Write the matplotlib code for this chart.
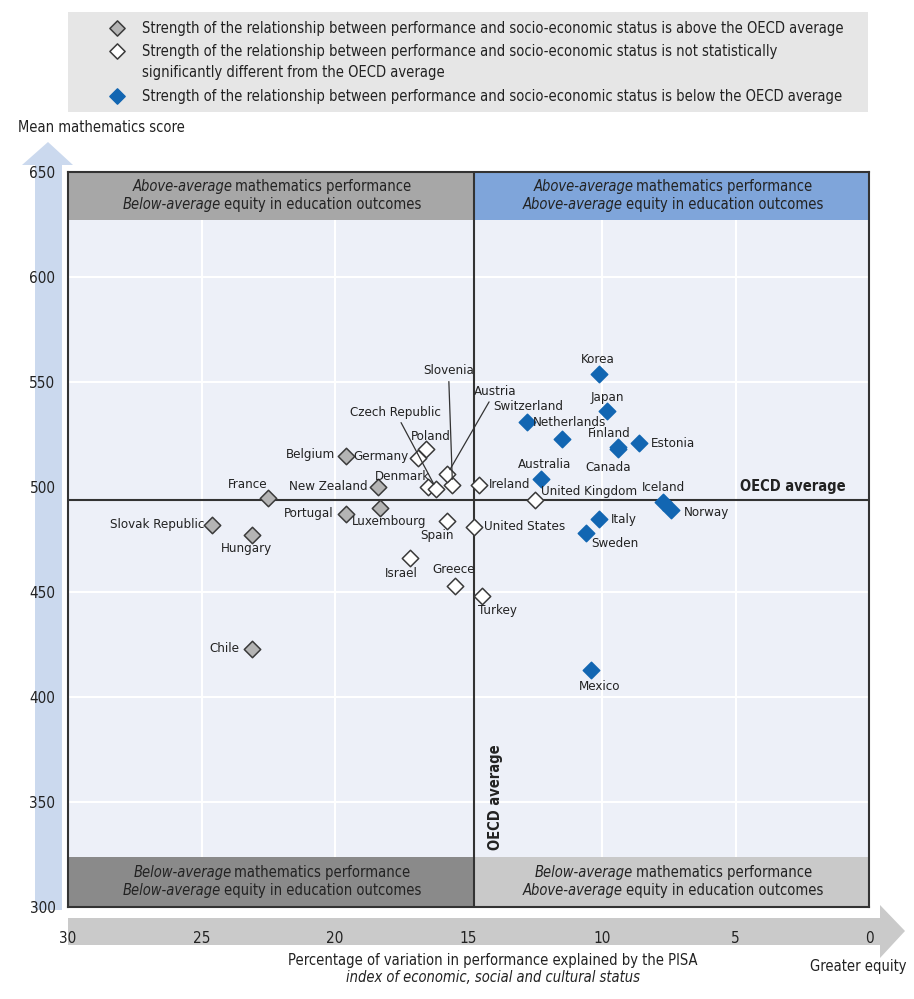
import numpy as np
import matplotlib
matplotlib.use('Agg')
import matplotlib.pyplot as plt
from matplotlib.patches import Rectangle, Polygon

plt.rcParams['font.family'] = ['DejaVu Sans']
plt.rcParams['font.stretch'] = 'condensed'

# data: (% variation explained by ESCS, mean maths score)
countries = ['Korea', 'Japan', 'Netherlands', 'Switzerland', 'Finland', 'Canada', 'Estonia',
             'Australia', 'Iceland', 'Norway', 'Italy', 'Sweden', 'Mexico',
             'United Kingdom', 'Ireland', 'United States', 'Turkey', 'Greece', 'Israel', 'Spain',
             'Luxembourg', 'Portugal', 'New Zealand', 'Belgium', 'Germany', 'Poland', 'Denmark',
             'Czech Republic', 'Slovenia', 'Austria', 'France', 'Slovak Republic', 'Hungary', 'Chile']
equity = [10.1, 9.8, 11.5, 12.8, 9.4, 9.4, 8.6,
          12.3, 7.7, 7.4, 10.1, 10.6, 10.4,
          12.5, 14.6, 14.8, 14.5, 15.5, 17.2, 15.8,
          18.3, 19.6, 18.4, 19.6, 16.9, 16.6, 16.5,
          16.2, 15.6, 15.8, 22.5, 24.6, 23.1, 23.1]
score = [554, 536, 523, 531, 519, 518, 521,
         504, 493, 489, 485, 478, 413,
         494, 501, 481, 448, 453, 466, 484,
         490, 487, 500, 515, 514, 518, 500,
         499, 501, 506, 495, 482, 477, 423]
# 'above', 'same', 'below' OECD average strength of relationship
group = ['below'] * 13 + ['same'] * 7 + ['above', 'above', 'above', 'above', 'same', 'same', 'same',
                                        'same', 'same', 'same', 'above', 'above', 'above', 'above']
oecd_x = 14.8
oecd_y = 494

legend_texts = ['Strength of the relationship between performance and socio-economic status is above the OECD average',
                'Strength of the relationship between performance and socio-economic status is not statistically\nsignificantly different from the OECD average',
                'Strength of the relationship between performance and socio-economic status is below the OECD average']

# label offsets in pixels (dx, dy, ha, leader line)
offsets = {
    'Korea': (-2, 14, 'center', False), 'Japan': (0, 14, 'center', False),
    'Netherlands': (8, 16, 'center', False), 'Switzerland': (1, 15, 'center', False),
    'Finland': (-9, 14, 'center', False), 'Canada': (-10, -18, 'center', False),
    'Estonia': (11, -1, 'left', False), 'Australia': (4, 14, 'center', False),
    'Iceland': (0, 14, 'center', False), 'Norway': (12, -2, 'left', False),
    'Italy': (12, -1, 'left', False), 'Sweden': (5, -10, 'left', False),
    'Mexico': (8, -17, 'center', False), 'United Kingdom': (6, 8, 'left', False),
    'Ireland': (10, 0, 'left', False), 'United States': (10, 0, 'left', False),
    'Turkey': (16, -14, 'center', False), 'Greece': (-1, 16, 'center', False),
    'Israel': (-8, -15, 'center', False), 'Spain': (-10, -15, 'center', False),
    'Luxembourg': (9, -13, 'center', False), 'Portugal': (-12, 1, 'right', False),
    'New Zealand': (-10, 0, 'right', False), 'Belgium': (-11, 1, 'right', False),
    'Germany': (-9, 1, 'right', False), 'Poland': (5, 13, 'center', False),
    'Denmark': (-26, 11, 'center', False), 'Czech Republic': (-41, 77, 'center', True),
    'Slovenia': (-4, 114, 'center', True), 'Austria': (48, 83, 'center', True),
    'France': (-21, 13, 'center', False), 'Slovak Republic': (-8, 0, 'right', False),
    'Hungary': (-6, -13, 'center', False), 'Chile': (-13, 0, 'right', False),
}

W, H = 914, 999
BLUE = '#1266b2'
TXT = '#222222'
styles = {'above': dict(facecolor='#b4b4b4', edgecolor='#3a3a3a'),
          'same': dict(facecolor='white', edgecolor='#3a3a3a'),
          'below': dict(facecolor=BLUE, edgecolor=BLUE)}

fig = plt.figure(figsize=(W / 100, H / 100), dpi=100)
fig.patch.set_facecolor('white')

# arrows behind the axes
fig.add_artist(Polygon([(35 / W, 1 - 910 / H), (62 / W, 1 - 910 / H), (62 / W, 1 - 165 / H),
                        (73 / W, 1 - 165 / H), (48 / W, 1 - 142 / H), (22 / W, 1 - 165 / H),
                        (35 / W, 1 - 165 / H)], closed=True, transform=fig.transFigure,
                       facecolor='#cbd9ee', edgecolor='none', zorder=0))
fig.add_artist(Polygon([(68 / W, 1 - 918 / H), (880 / W, 1 - 918 / H), (880 / W, 1 - 905 / H),
                        (905 / W, 1 - 931 / H), (880 / W, 1 - 958 / H), (880 / W, 1 - 945 / H),
                        (68 / W, 1 - 945 / H)], closed=True, transform=fig.transFigure,
                       facecolor='#cacaca', edgecolor='none', zorder=0))

ax = fig.add_axes([68 / W, 1 - 907 / H, 801 / W, 735 / H])
ax.set_facecolor('#edf0f8')
ax.set_xlim(30, 0)
ax.set_ylim(300, 650)
ax.set_xticks([30, 25, 20, 15, 10, 5, 0])
ax.set_yticks([300, 350, 400, 450, 500, 550, 600, 650])
ax.tick_params(length=0, labelsize=11, colors=TXT)
ax.tick_params(axis='x', pad=17)
ax.tick_params(axis='y', pad=9)
for v in [5, 10, 20, 25]:
    ax.axvline(v, color='white', lw=1.5, zorder=1)
for v in [350, 400, 450, 550, 600]:
    ax.axhline(v, color='white', lw=1.5, zorder=1)
for s in ax.spines.values():
    s.set_color('#333333')
    s.set_linewidth(1.5)
    s.set_zorder(6)

# quadrant bands
xt = ax.get_xaxis_transform()
ax.add_patch(Rectangle((oecd_x, 0.935), 30 - oecd_x, 0.065, transform=xt, facecolor='#a7a7a7', edgecolor='none', zorder=2))
ax.add_patch(Rectangle((0, 0.935), oecd_x, 0.065, transform=xt, facecolor='#7fa5da', edgecolor='none', zorder=2))
ax.add_patch(Rectangle((oecd_x, 0), 30 - oecd_x, 0.068, transform=xt, facecolor='#8a8a8a', edgecolor='none', zorder=2))
ax.add_patch(Rectangle((0, 0), oecd_x, 0.068, transform=xt, facecolor='#c9c9c9', edgecolor='none', zorder=2))

ax.axhline(oecd_y, color='#333333', lw=1.5, zorder=3)
ax.axvline(oecd_x, color='#333333', lw=1.5, zorder=3)

for g in ['above', 'same', 'below']:
    xs = [e for e, gg in zip(equity, group) if gg == g]
    ys = [s for s, gg in zip(score, group) if gg == g]
    ax.scatter(xs, ys, marker='D', s=70, linewidths=1.1, zorder=5, **styles[g])

for c, e, s in zip(countries, equity, score):
    dx, dy, ha, line = offsets[c]
    kw = {}
    if line:
        kw['arrowprops'] = dict(arrowstyle='-', color='#333333', lw=0.9, shrinkA=1, shrinkB=4)
    ax.annotate(c, (e, s), xytext=(dx, dy), textcoords='offset pixels', ha=ha, va='center',
                fontsize=9.5, color=TXT, zorder=7, **kw)

ax.annotate('OECD average', (4.84, oecd_y), xytext=(0, 6), textcoords='offset pixels', fontsize=10.5,
            fontweight='bold', ha='left', va='bottom', color=TXT, zorder=7)
ax.annotate('OECD average', (oecd_x, 0.068), xycoords=xt, xytext=(22, 7), textcoords='offset pixels',
            rotation=90, fontsize=10.5, fontweight='bold', ha='center', va='bottom', color=TXT, zorder=7)

renderer = fig.canvas.get_renderer()


def mixed_line(xc, yc, ital, rest, size=10.5):
    t1 = fig.text(0, 0, ital, style='italic', fontsize=size, va='center', ha='left', color=TXT)
    t2 = fig.text(0, 0, rest, fontsize=size, va='center', ha='left', color=TXT)
    w1 = t1.get_window_extent(renderer).width
    w2 = t2.get_window_extent(renderer).width
    gap = 3
    x0 = xc - (w1 + gap + w2) / 2
    t1.set_position((x0 / W, 1 - yc / H))
    t2.set_position(((x0 + w1 + gap) / W, 1 - yc / H))


for xc, y1, y2, a, b in [(272, 186, 205, 'Above-average', 'Below-average'),
                         (673, 186, 205, 'Above-average', 'Above-average'),
                         (272, 872, 891, 'Below-average', 'Below-average'),
                         (673, 872, 891, 'Below-average', 'Above-average')]:
    mixed_line(xc, y1, a, 'mathematics performance')
    mixed_line(xc, y2, b, 'equity in education outcomes')

fig.text(18 / W, 1 - 128 / H, 'Mean mathematics score', fontsize=10.5, va='center', ha='left', color=TXT)
fig.text(493 / W, 1 - 960 / H, 'Percentage of variation in performance explained by the PISA',
         fontsize=10.5, va='center', ha='center', color=TXT)
fig.text(493 / W, 1 - 978 / H, 'index of economic, social and cultural status', style='italic',
         fontsize=10.5, va='center', ha='center', color=TXT)
fig.text(907 / W, 1 - 967 / H, 'Greater equity', fontsize=10.5, va='center', ha='right', color=TXT)

# legend box
lg = fig.add_axes([68 / W, 1 - 112 / H, 800 / W, 100 / H])
lg.set_facecolor('#e6e6e6')
lg.set_xlim(0, 800)
lg.set_ylim(100, 0)
lg.set_xticks([])
lg.set_yticks([])
for s in lg.spines.values():
    s.set_visible(False)
for (g, t, yy) in zip(['above', 'same', 'below'], legend_texts, [16, 39, 84]):
    lg.scatter([49], [yy], marker='D', s=60, linewidths=1.1, **styles[g])
    for k, line in enumerate(t.split('\n')):
        lg.text(74, yy + 21 * k, line, fontsize=10.5, va='center', ha='left', color=TXT)

fig.savefig('out.png', dpi=100)
